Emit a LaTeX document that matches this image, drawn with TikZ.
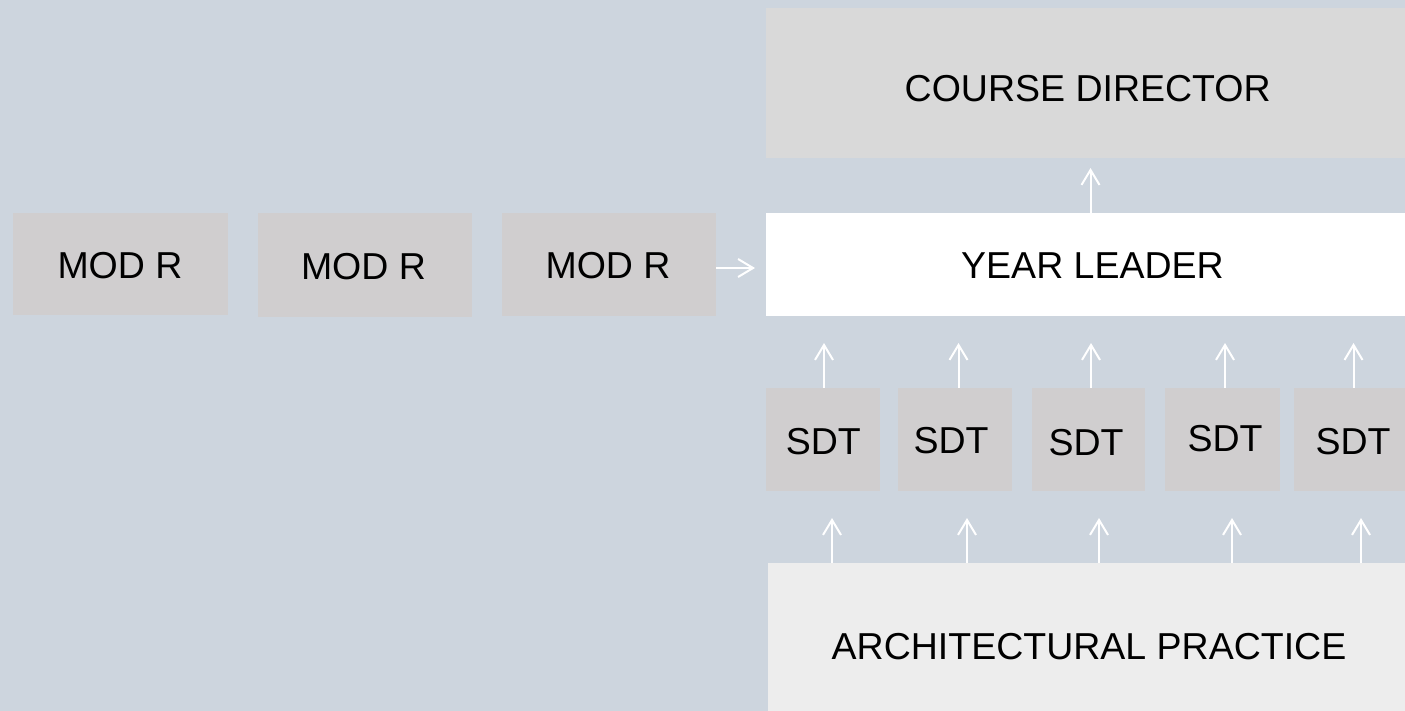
\documentclass[tikz,border=0pt]{standalone}
\usepackage{fontspec}
\setmainfont{Liberation Sans}
\usetikzlibrary{arrows.meta,positioning}

\definecolor{bgblue}{RGB}{205,213,222}
\definecolor{topgray}{RGB}{217,217,217}
\definecolor{boxgray}{RGB}{208,206,207}
\definecolor{basegray}{RGB}{237,237,237}

\tikzset{
  block/.style={rectangle, draw=none, inner sep=0pt, outer sep=0pt},
  lbl/.style={anchor=base, inner sep=0pt, font=\fontsize{37.5}{45}\selectfont, text=black},
  arr/.style={draw=white, line width=2pt,
    -{Straight Barb[length=15pt,width=18pt]}},
}

\begin{document}
\begin{tikzpicture}[x=1pt, y=-1pt]
  % canvas
  \fill[bgblue] (0,0) rectangle (1405,711);
  \useasboundingbox (0,0) rectangle (1405,711);

  % top level
  \node[block, fill=topgray, minimum width=639pt, minimum height=150pt] (cd) at (1085.5,83) {};
  \node[lbl] (cdt) at (1087.7,101.7) {COURSE DIRECTOR};

  % year leader
  \node[block, fill=white, minimum width=639pt, minimum height=103pt] (yl) at (1085.5,264.5) {};
  \node[lbl] (ylt) at (1092.5,278.3) {YEAR LEADER};

  % module boxes
  \node[block, fill=boxgray, minimum width=215pt, minimum height=102pt] (m1) at (120.5,264) {};
  \node[block, fill=boxgray, minimum width=214pt, minimum height=103pt] (m2) at (364.5,265) {};
  \node[block, fill=boxgray, minimum width=214pt, minimum height=103pt] (m3) at (609,264.5) {};
  \node[lbl] (m1t) at (120,279) {MOD R};
  \node[lbl] (m2t) at (363.5,279.3) {MOD R};
  \node[lbl] (m3t) at (608,279) {MOD R};

  % studio tutors
  \node[block, fill=boxgray, minimum width=114pt, minimum height=103pt] (s1) at (823,439.5) {};
  \node[block, fill=boxgray, minimum width=114pt, minimum height=103pt] (s2) at (955,439.5) {};
  \node[block, fill=boxgray, minimum width=113pt, minimum height=103pt] (s3) at (1088.5,439.5) {};
  \node[block, fill=boxgray, minimum width=115pt, minimum height=103pt] (s4) at (1222.5,439.5) {};
  \node[block, fill=boxgray, minimum width=111pt, minimum height=103pt] (s5) at (1349.5,439.5) {};
  \node[lbl] (s1t) at (823.4,454) {SDT};
  \node[lbl] (s2t) at (951,453) {SDT};
  \node[lbl] (s3t) at (1086,455) {SDT};
  \node[lbl] (s4t) at (1225,451) {SDT};
  \node[lbl] (s5t) at (1353,454) {SDT};

  % practice
  \node[block, fill=basegray, minimum width=637pt, minimum height=148pt] (ap) at (1086.5,637) {};
  \node[lbl] (apt) at (1089,659) {ARCHITECTURAL PRACTICE};

  % connectors
  \draw[arr, shorten >=11pt] ([yshift=-3.5pt]m3.east) -- ([yshift=-3.5pt]m3.east -| yl.west);
  \draw[arr, shorten >=10pt] ([xshift=5pt]yl.north) -- ([xshift=5pt]yl.north |- cd.south);

  \draw[arr, shorten >=27pt] ([xshift=1pt]s1.north) -- ([xshift=1pt]s1.north |- yl.south);
  \draw[arr, shorten >=27pt] ([xshift=3.5pt]s2.north) -- ([xshift=3.5pt]s2.north |- yl.south);
  \draw[arr, shorten >=27pt] ([xshift=2.5pt]s3.north) -- ([xshift=2.5pt]s3.north |- yl.south);
  \draw[arr, shorten >=27pt] ([xshift=2.5pt]s4.north) -- ([xshift=2.5pt]s4.north |- yl.south);
  \draw[arr, shorten >=27pt] ([xshift=4pt]s5.north) -- ([xshift=4pt]s5.north |- yl.south);

  \draw[arr, shorten >=27pt] ([xshift=9pt]s1.south |- ap.north) -- ([xshift=9pt]s1.south);
  \draw[arr, shorten >=27pt] ([xshift=12pt]s2.south |- ap.north) -- ([xshift=12pt]s2.south);
  \draw[arr, shorten >=27pt] ([xshift=10.5pt]s3.south |- ap.north) -- ([xshift=10.5pt]s3.south);
  \draw[arr, shorten >=27pt] ([xshift=9.5pt]s4.south |- ap.north) -- ([xshift=9.5pt]s4.south);
  \draw[arr, shorten >=27pt] ([xshift=11.5pt]s5.south |- ap.north) -- ([xshift=11.5pt]s5.south);
\end{tikzpicture}
\end{document}
